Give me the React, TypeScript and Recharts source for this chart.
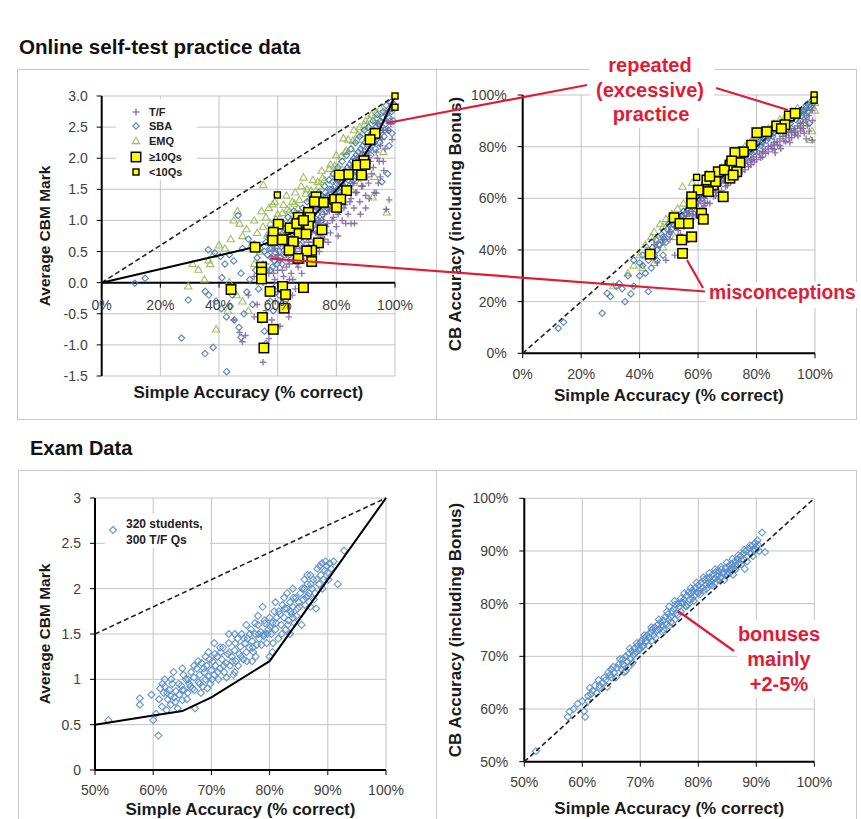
import React from 'react';
import { ScatterChart, Scatter, XAxis, YAxis, CartesianGrid, ReferenceLine, Legend } from 'recharts';

type Pt = [number, number];

// ---------- online self-test practice: average CBM mark vs simple accuracy ----------
const practiceTF: Pt[] = [
  [50, -0.2], [52, 0.1], [53, -0.35], [54, 0.25], [55, -1.28], [55, 0.0], [56, 0.3], [56, -0.45], [57, 0.15], [58, -0.6],
  [58, 0.42], [59, 0.05], [59, 0.55], [60, 0.2], [60, -0.15], [61, 0.35], [61, 0.62], [62, 0.1], [62, -0.4], [63, 0.45],
  [63, 0.25], [63, 0.8], [64, 0.05], [64, 0.55], [65, 0.35], [65, 0.7], [65, -0.2], [66, 0.5], [66, 0.9], [67, 0.25],
  [67, 0.65], [68, 0.45], [68, 0.85], [68, 1.05], [69, 0.6], [69, 0.35], [70, 0.75], [70, 0.55], [70, 1.1], [71, 0.9],
  [71, 0.45], [72, 0.65], [72, 1.0], [73, 0.8], [73, 1.2], [74, 0.6], [74, 1.0], [75, 0.85], [75, 1.3], [76, 1.1],
  [76, 0.7], [77, 0.95], [77, 1.4], [78, 1.2], [78, 0.8], [79, 1.05], [79, 1.5], [80, 1.3], [80, 0.9], [81, 1.15],
  [81, 1.6], [82, 1.4], [82, 1.0], [83, 1.25], [83, 1.75], [84, 1.5], [84, 1.1], [85, 1.35], [85, 1.85], [86, 1.6],
  [86, 1.2], [87, 1.45], [87, 2.0], [88, 1.75], [88, 1.3], [89, 1.55], [89, 2.1], [90, 1.85], [90, 1.4], [91, 2.05],
  [91, 1.6], [92, 2.25], [92, 1.75], [93, 1.45], [93, 2.4], [94, 2.0], [94, 2.55], [95, 2.2], [95, 1.7], [96, 2.45],
  [96, 1.95], [97, 2.6], [97, 1.18], [98, 1.33], [98, 2.75], [99, 2.85], [99, 2.3], [47, -0.8], [49, -0.85], [45, -0.6],
  [52, -0.55], [48, -0.95], [57, -0.9], [62, -0.3], [66, -0.1], [60, 0.45], [64, 0.3], [93.6, 1.44], [90, 1.2], [85, 0.95],
  [58.6, 0.15], [59.6, 0.4], [61.6, 0.2], [62.6, 0.55], [63.6, 0.35], [64.6, 0.15], [65.6, 0.5], [66.6, 0.3], [67.6, 0.55],
  [68.6, 0.75], [69.6, 0.5], [70.6, 0.65], [71.6, 0.8], [72.6, 0.55], [73.6, 0.95], [74.6, 0.75], [75.6, 1.0], [76.6, 0.9],
  [77.6, 1.15], [78.6, 1.0], [79.6, 1.25], [80.6, 1.1], [81.6, 1.35], [82.6, 1.2], [83.6, 1.5], [84.6, 1.3], [85.6, 1.6],
  [86.6, 1.45], [87.6, 1.7], [88.6, 1.55], [89.6, 1.85], [90.6, 1.7], [91.6, 1.95], [92.6, 1.85], [93.6, 2.1], [94.6, 1.95],
  [95.6, 2.3], [96.6, 2.15], [97.6, 2.45], [98.6, 2.55], [91.2, 1.35], [94.3, 1.6], [96.2, 1.8], [88.2, 1.1], [86.2, 0.95],
  [83.2, 0.95], [80.6, 0.75], [77.2, 0.65], [74.2, 0.5], [71.2, 0.3], [68.2, 0.15], [65.2, 0.05], [62.2, -0.1], [59.2, -0.3],
  [63.8, -0.55], [60.8, -0.7],
];
const practiceSBA: Pt[] = [
  [11.3, -0.01], [14.8, 0.07], [27.2, -0.89], [29.5, -0.28], [35.2, -1.14], [35.3, -0.14], [36.5, -0.2], [38, -1.04],
  [42.6, -1.43], [36.3, 0.53], [38.5, 0.48], [40.5, 0.42], [42, 0.3], [43.5, 0.45], [45, 0.35], [46.5, 1.08], [47.5, 0.15],
  [39, -0.3], [40.8, -0.42], [42.5, -0.55], [43.8, -0.38], [45.2, -0.6], [46.8, -0.72], [47.5, -0.88], [48.5, -0.5],
  [44.5, -0.2], [49.5, -0.15], [50.5, 0.05], [51.5, -0.35], [52.5, 0.2], [53.5, -0.1], [54.5, -0.6], [55.5, -0.78],
  [56, -0.98], [57.5, -0.3], [58.5, -0.45], [59.5, -0.05], [60.5, -0.2], [41, 0.08], [48, 0.55], [50, 0.7], [52, 0.62],
  [53, 0.4], [54, 0.55], [55, 0.3], [56, 0.65], [56.5, 0.45], [57, 0.75], [57.5, 0.2], [58, 0.55], [58.5, 0.8], [59, 0.35],
  [59.5, 0.65], [60, 0.9], [60.5, 0.5], [61, 0.75], [61.5, 0.3], [62, 0.95], [62.5, 0.6], [63, 0.8], [63.5, 1.05], [64, 0.45],
  [64.5, 0.7], [65, 0.95], [65.5, 1.15], [66, 0.6], [66.5, 0.85], [67, 1.1], [67.5, 0.7], [68, 0.95], [68.5, 1.2], [69, 0.8],
  [69.5, 1.05], [70, 1.3], [70.5, 0.9], [71, 1.15], [71.5, 1.4], [72, 1.0], [72.5, 1.25], [73, 0.85], [73.5, 1.1], [74, 1.45],
  [74.5, 1.2], [75, 1.0], [75.5, 1.35], [76, 1.55], [76.5, 1.15], [77, 1.4], [77.5, 1.65], [78, 1.25], [78.5, 1.5], [79, 1.75],
  [79.5, 1.35], [80, 1.6], [80.5, 1.85], [81, 1.45], [81.5, 1.7], [82, 1.95], [82.5, 1.55], [83, 1.8], [83.5, 2.05], [84, 1.65],
  [84.5, 1.9], [85, 2.15], [85.5, 1.75], [86, 2.0], [86.5, 2.25], [87, 1.85], [87.5, 2.1], [88, 2.35], [88.5, 1.95], [89, 2.2],
  [89.5, 2.45], [90, 2.05], [90.5, 2.3], [91, 2.5], [91.5, 2.15], [92, 2.4], [92.5, 2.6], [93, 2.25], [93.5, 2.5], [94, 2.7],
  [94.5, 2.35], [95, 2.6], [96, 2.75], [96.5, 2.45], [97, 2.85], [98, 2.65], [98.5, 2.9], [99, 2.8], [97.5, 1.75], [95.5, 1.62],
  [98, 2.2], [99, 2.4],
  [55.5, 0.5], [56.2, 0.2], [57.3, 0.55], [57.8, 0.4], [58.2, 0.25], [58.8, 0.62], [59.3, 0.48], [59.8, 0.3], [60.3, 0.7],
  [60.8, 0.4], [61.3, 0.58], [61.8, 0.8], [62.3, 0.45], [62.8, 0.68], [63.3, 0.55], [63.8, 0.85], [64.3, 0.62], [64.8, 0.8],
  [65.3, 0.55], [65.8, 0.92], [66.3, 0.72], [66.8, 0.98], [67.3, 0.8], [67.8, 0.6], [68.3, 1.05], [68.8, 0.85], [69.3, 0.7],
  [69.8, 1.0], [70.3, 1.1], [70.8, 0.82], [71.3, 1.0], [71.8, 1.2], [72.3, 0.95], [72.8, 1.15], [73.3, 1.3], [73.8, 1.0],
  [74.3, 1.25], [74.8, 1.4], [75.3, 1.1], [75.8, 1.25], [76.3, 1.45], [76.8, 1.2], [77.3, 1.35], [77.8, 1.5], [78.3, 1.3],
  [78.8, 1.62], [79.3, 1.45], [79.8, 1.25], [80.3, 1.5], [80.8, 1.65], [81.3, 1.4], [81.8, 1.6], [82.3, 1.75], [82.8, 1.45],
  [83.3, 1.68], [83.8, 1.85], [84.3, 1.55], [84.8, 1.78], [85.3, 1.95], [85.8, 1.65], [86.3, 1.85], [86.8, 2.05], [87.3, 1.75],
  [87.8, 1.95], [88.3, 2.15], [88.8, 1.85], [89.3, 2.05], [89.8, 2.25], [90.3, 1.95], [90.8, 2.15], [91.3, 2.35], [91.8, 2.05],
  [92.3, 2.25], [92.8, 2.45], [93.3, 2.15], [93.8, 2.35], [94.3, 2.55], [94.8, 2.25], [95.3, 2.45], [95.8, 2.65], [96.3, 2.35],
  [96.8, 2.55], [97.3, 2.72], [97.8, 2.45], [98.3, 2.6], [98.8, 2.75], [99.3, 2.88], [99.5, 2.6],
];
const practiceEMQ: Pt[] = [
  [29.5, -0.06], [33, 0.21], [36.4, 0.36], [37, 0.3], [38, 0.45], [39, -0.75], [40, 0.6], [42, 0.55], [43.5, 0.01], [43, -0.45],
  [44, 0.7], [45, 1.0], [46.3, 1.15], [47, 0.95], [48, 0.75], [48, -0.3], [49.4, 0.86], [50, -0.45], [51, 0.6], [52, 1.0],
  [52, 0.3], [53, 0.8], [54.5, 1.15], [55.1, 1.57], [55, 0.9], [56, 1.05], [57, 1.2], [58.3, 1.26], [58, 0.85], [59, 1.3],
  [60, 1.1], [61, 0.95], [62, 1.25], [63, 1.4], [64, 1.15], [65, 1.3], [66, 1.45], [67, 1.2], [68.8, 1.69], [68, 1.55],
  [70, 1.5], [71, 1.35], [72, 1.65], [74, 1.55], [75, 1.8], [76, 1.65], [78, 1.9], [79, 1.75], [80, 2.05], [81, 1.9],
  [82.4, 2.32], [83, 2.1], [84, 2.3], [85, 2.15], [86, 2.45], [87, 2.3], [88, 2.5], [89, 2.4], [90, 2.6], [91, 2.5],
  [92, 2.7], [94, 2.65], [95, 2.8], [97, 2.75], [92.4, 1.37], [97.2, 1.13], [93, 1.7], [96, 2.1], [88, 1.6], [85, 1.5],
  [46, -0.2], [54, 0.5], [35, 0.05], [31, 0.3],
  [57.5, 0.95], [59.4, 1.02], [61.6, 1.12], [63.3, 1.18], [65.7, 1.27], [67.4, 1.33], [69.6, 1.43], [71.4, 1.48],
  [73.7, 1.62], [75.3, 1.68], [77.6, 1.83], [79.4, 1.88], [81.7, 2.03], [83.4, 2.12], [85.6, 2.28], [87.3, 2.38],
  [89.6, 2.53], [91.4, 2.62], [93.6, 2.73], [56.4, 0.76], [60.6, 0.84], [64.5, 1.02],
];
const practiceBig: Pt[] = [
  [93.2, 2.4], [91.5, 2.3], [89.4, 1.96], [87.2, 1.89], [88.6, 1.73], [84.1, 1.74], [81.0, 1.73], [83.5, 1.48], [79.4, 1.34],
  [81.5, 1.34], [80.1, 1.21], [73.1, 1.38], [75.6, 1.29], [70.5, 1.13], [71.0, 1.05], [67.0, 1.05], [68.4, 0.97], [70.5, 0.91],
  [64.2, 0.88], [67.3, 0.79], [69.7, 0.78], [75.1, 0.85], [60.2, 0.94], [58.5, 0.81], [58.3, 0.68], [61.6, 0.69], [65.3, 0.66],
  [73.9, 0.64], [63.9, 0.52], [71.6, 0.52], [69.9, 0.51], [67.0, 0.39], [71.6, 0.34], [52.3, 0.57], [54.5, 0.25], [54.5, 0.17],
  [54.5, 0.06], [44.1, -0.11], [57.4, -0.14], [61.7, -0.06], [68.8, -0.08], [62.7, -0.19], [62.2, -0.41], [54.8, -0.56],
  [58.5, -0.75], [55.3, -1.05], [89.8, 1.9], [72.5, 1.3], [66.5, 0.95], [68.8, 1.0],
];
const practiceSmall: Pt[] = [[100, 3.0], [100, 2.82], [59.9, 1.41]];
const practiceCurve: Pt[] = [[0, 0], [53, 0.58], [60, 0.7], [66, 0.82], [72, 1.05], [88, 1.93], [94, 2.38], [100, 3]];
const practiceDiag: Pt[] = [[0, 0], [100, 3]];

// ---------- online self-test practice: CB accuracy vs simple accuracy ----------
const cbTF: Pt[] = [
  [45, 42], [48, 44], [50, 47], [52, 49], [54, 50], [55, 52], [56, 53], [57, 54], [58, 55], [59, 57], [60, 58], [61, 59],
  [62, 60], [63, 61], [64, 62], [65, 63], [66, 63.5], [67, 65], [68, 66], [69, 67], [70, 67.5], [71, 69], [72, 70], [73, 70.5],
  [74, 72], [75, 72.5], [76, 73.5], [77, 74], [78, 75], [79, 76], [80, 77], [81, 77.5], [82, 78], [83, 79], [84, 80], [85, 80.5],
  [86, 81], [87, 82], [88, 83], [89, 84], [90, 84.5], [91, 85.5], [92, 86], [93, 87], [94, 88], [95, 89], [96, 89.5], [97, 90.5],
  [98, 92], [99, 94], [90, 82], [92, 83.5], [95, 86], [97, 83], [98, 86], [88, 80.5], [86, 79], [93, 84.5], [96, 87], [99, 82.5],
  [54, 46], [58, 52], [62, 57], [66, 61], [70, 65], [74, 69], [78, 73], [82, 76], [52, 38], [49, 36], [56, 43], [60, 54],
  [64, 58], [68, 63], [72, 67.5], [76, 71], [80, 75], [84, 78], [46, 35], [45, 37],
  [50.4, 44.2], [53.2, 47.6], [56.3, 50.4], [59.1, 53.7], [61.4, 56.2], [63.2, 58.4], [65.3, 60.7], [67.1, 62.4], [69.4, 64.6],
  [71.2, 66.3], [73.4, 68.7], [75.1, 70.4], [77.3, 72.2], [79.2, 74.1], [81.4, 75.7], [83.1, 77.4], [85.3, 79.2], [87.2, 80.6],
  [89.4, 82.2], [91.1, 83.4], [93.3, 85.6], [95.2, 87.3], [97.4, 88.2], [99.2, 90.1], [94.2, 84.1], [96.3, 85.2], [91.4, 81.6],
  [88.3, 79.2], [86.4, 77.6], [55.2, 49.1], [58.3, 53.2], [62.4, 58.1], [66.2, 62.2], [70.3, 66.1], [74.2, 70.2], [78.4, 74.6],
  [82.2, 78.1], [86.1, 81.7], [90.2, 85.6],
];
const cbSBA: Pt[] = [
  [12.2, 9.7], [14, 12], [27.2, 15.5], [28.9, 23.2], [30, 22], [33, 27], [35, 20], [37, 23], [38, 26], [40, 30], [41, 34],
  [42, 31], [43, 36], [43, 23.9], [44, 33], [45, 38], [46, 40], [46, 36], [47, 42], [48, 38], [48, 45], [49, 43], [50, 46],
  [50, 50], [51, 48], [52, 51], [53, 49], [53, 53], [54, 52], [55, 55], [56, 54], [57, 57], [58, 58], [59, 57], [60, 60],
  [61, 62], [62, 61], [63, 64], [64, 63], [65, 66], [66, 66], [67, 68], [68, 67], [69, 70], [70, 70], [71, 72], [72, 72],
  [73, 74], [74, 74], [75, 76], [76, 76], [77, 78], [78, 78], [79, 80], [80, 80], [81, 82], [82, 81.5], [83, 84], [84, 83.5],
  [85, 86], [86, 85.5], [87, 87], [88, 87.5], [89, 89], [90, 89], [91, 90], [92, 90.5], [93, 92], [94, 92], [95, 93.5], [96, 94],
  [97, 95], [98, 96], [99, 98], [92, 87], [95, 90], [97, 92], [98, 89], [38, 36], [41, 38], [36, 30], [40, 35], [34, 25], [32, 26],
  [44.5, 41], [45.5, 44], [46.5, 42], [47.5, 46], [48.5, 44], [49.5, 48], [50.5, 47], [51.5, 50], [52.5, 49], [53.5, 52],
  [54.5, 51], [55.5, 54], [56.5, 56], [57.5, 55], [58.5, 59], [59.5, 58.5], [60.5, 61], [61.5, 60], [62.5, 63], [63.5, 62],
  [64.5, 65], [65.5, 64], [66.5, 67], [67.5, 66.5], [68.5, 69], [69.5, 68], [70.5, 71], [71.5, 70.5], [72.5, 73], [73.5, 72.5],
  [74.5, 75], [75.5, 74.5], [76.5, 77], [77.5, 76.5], [78.5, 79], [79.5, 78.5], [80.5, 81], [81.5, 80.5], [82.5, 83], [83.5, 82.5],
  [84.5, 84.5], [85.5, 84], [86.5, 86.5], [87.5, 86], [88.5, 88], [89.5, 87.5], [90.5, 89.5], [91.5, 89], [92.5, 91], [93.5, 90.5],
  [94.5, 92.5], [95.5, 92], [96.5, 94], [97.5, 93.5], [98.5, 95.5], [99.5, 97], [62, 62.5], [67, 67.8], [72, 71.5], [77, 77.5],
  [82, 82], [87, 86.8], [92, 91.2], [97, 96],
];
const cbEMQ: Pt[] = [
  [31, 26], [36, 31], [40, 38], [42, 42], [43, 40], [44, 45], [45, 47], [46, 44], [47, 50], [48, 49], [49, 52], [50, 51], [51, 54],
  [53, 56], [54.7, 64.5], [55, 58], [57, 61], [58, 66], [59, 62], [60, 64], [62, 66], [63, 69.4], [64, 68], [66, 70], [68, 72],
  [70, 74], [72, 76], [74, 78], [76, 80], [78, 82], [80, 84], [82, 85.5], [84, 87], [86, 89], [88, 90.5], [90, 92], [92, 93.5],
  [94, 95], [96, 93], [97, 89], [98, 95], [99, 96], [100, 94], [100, 97], [93, 86], [95, 88], [89, 85], [91, 87], [85, 84],
  [75, 75], [65, 64], [55, 53], [48, 41], [45, 35], [52, 45], [38, 34], [41, 33], [98.5, 82.6], [99, 86],
];
const cbBig: Pt[] = [
  [91.2, 91.9], [93.2, 92.9], [86.9, 88], [89.7, 88.5], [83.5, 85.8], [80.1, 85.4], [78.3, 80.6], [75.5, 78], [72.6, 77.7],
  [74.3, 73.8], [70.9, 72.9], [73.2, 70.3], [70.9, 67.8], [66.9, 70.3], [65.2, 65.2], [68.6, 60.6], [63, 67.1], [63.5, 62.6],
  [60.1, 63.2], [57.8, 60.6], [57.8, 58.1], [61.2, 54.2], [61.8, 51.9], [51.8, 52.5], [53.8, 50.3], [56.7, 50.3], [54.4, 43.9],
  [57.8, 45.1], [54.7, 38.7], [43.6, 38.4], [88.5, 87], [69, 71], [71.5, 74.5], [66, 66.5], [64, 68.5], [72, 69],
];
const cbSmall: Pt[] = [[99.7, 100], [99.7, 98], [59.5, 68.1]];
const cbDiag: Pt[] = [[0, 0], [100, 100]];

// ---------- exam data ----------
const examMark: Pt[] = [
  [52.3, 0.55], [57.7, 0.79], [57.7, 0.72], [59.7, 0.83], [60, 0.55], [60.9, 0.38], [60.5, 0.62], [61.2, 0.9], [61.5, 0.7],
  [61.8, 0.85], [62.0, 0.92], [62.3, 0.66], [62.5, 0.78], [62.8, 0.88], [63.0, 0.72], [63.3, 0.95], [63.6, 0.8], [63.9, 0.87],
  [64.2, 0.68], [64.5, 0.83], [64.8, 0.93], [65.0, 0.77], [65.3, 0.88], [65.6, 1.0], [65.9, 0.85], [66.2, 0.95], [66.5, 1.08],
  [66.8, 0.9], [67.0, 1.02], [67.2, 0.68], [67.5, 1.12], [67.8, 0.97], [68.0, 1.05], [68.3, 1.18], [68.5, 0.92], [68.8, 1.08],
  [69.0, 1.0], [69.2, 1.15], [69.5, 1.03], [69.8, 0.95], [70.0, 1.1], [70.2, 1.2], [70.5, 1.05], [70.7, 1.15], [71.0, 1.25],
  [71.2, 1.0], [71.5, 1.12], [71.8, 1.22], [72.0, 1.35], [72.2, 1.08], [72.5, 1.18], [72.8, 1.28], [73.0, 1.4], [73.2, 1.15],
  [73.5, 1.25], [73.8, 1.05], [74.0, 1.32], [74.2, 1.2], [74.5, 1.45], [74.8, 1.28], [75.0, 1.36], [75.2, 1.5], [75.5, 1.22],
  [75.8, 1.4], [76.0, 1.3], [76.2, 1.45], [76.5, 1.35], [76.8, 1.55], [77.0, 1.42], [77.2, 1.3], [77.5, 1.5], [77.8, 1.38],
  [78.0, 1.6], [78.2, 1.45], [78.5, 1.52], [78.8, 1.8], [79.0, 1.48], [79.2, 1.62], [79.5, 1.4], [79.8, 1.55], [80.0, 1.68],
  [80.0, 1.25], [80.3, 1.5], [80.5, 1.62], [80.8, 1.75], [81.0, 1.55], [81.2, 1.68], [81.5, 1.45], [81.8, 1.72], [82.0, 1.6],
  [82.2, 1.82], [82.5, 1.68], [82.8, 1.55], [83.0, 1.78], [83.2, 1.65], [83.5, 1.85], [83.8, 1.72], [84.0, 1.8], [84.3, 1.62],
  [84.5, 1.9], [84.8, 1.78], [85.0, 1.85], [85.3, 1.95], [85.5, 1.6], [85.8, 1.88], [86.0, 2.0], [86.3, 1.9], [86.5, 2.05],
  [86.8, 1.95], [87.0, 2.15], [87.3, 2.0], [87.5, 2.1], [87.8, 1.95], [88.0, 1.78], [88.2, 2.22], [88.5, 2.05], [88.8, 2.15],
  [89.0, 2.28], [89.3, 2.1], [89.5, 2.2], [89.8, 2.25], [90.0, 2.18], [90.3, 2.28], [91.7, 2.05], [92.8, 2.42], [86.5, 2.15],
  [83, 1.95], [81, 1.85], [70.5, 1.4], [69, 1.25], [66, 1.0], [74, 1.5], [77.5, 1.62], [79, 1.5], [84, 1.68], [65, 0.88],
  [63, 0.82], [68, 0.95],
  [61.0, 0.78], [61.6, 0.95], [62.4, 0.85], [63.1, 1.0], [63.8, 0.75], [64.4, 0.95], [65.2, 1.05], [65.8, 0.78], [66.4, 0.92],
  [67.1, 0.88], [67.7, 1.2], [68.2, 0.85], [68.7, 1.12], [69.3, 0.9], [69.7, 1.22], [70.1, 1.0], [70.6, 1.28], [71.1, 1.08],
  [71.6, 1.3], [72.1, 1.15], [72.6, 1.02], [73.1, 1.3], [73.6, 1.2], [74.1, 1.4], [74.6, 1.15], [75.1, 1.25], [75.6, 1.45],
  [76.1, 1.2], [76.6, 1.5], [77.1, 1.35], [77.6, 1.25], [78.1, 1.5], [78.6, 1.38], [79.1, 1.65], [79.6, 1.5], [80.1, 1.58],
  [80.6, 1.4], [81.1, 1.62], [81.6, 1.75], [82.1, 1.5], [82.6, 1.78], [83.1, 1.6], [83.6, 1.75], [84.1, 1.9], [84.6, 1.7],
  [85.1, 1.8], [85.6, 2.0], [86.1, 1.82], [86.6, 1.92], [87.1, 2.05], [87.6, 1.88], [88.1, 2.1], [88.6, 2.25], [89.1, 2.0],
  [89.6, 2.3], [90.1, 2.1], [90.6, 2.22], [91.0, 2.3], [86, 2.1], [84, 2.0], [82.5, 1.9], [78, 1.7], [76, 1.6], [73, 1.5],
  [71.5, 1.35], [69.5, 1.3], [67, 1.15], [65, 1.12], [63.5, 1.08], [62, 1.0], [74, 1.08], [77, 1.2], [80.5, 1.3], [83.5, 1.5],
  [87, 1.8],
];
const examCurve: Pt[] = [[50, 0.5], [60, 0.6], [65, 0.65], [70, 0.8], [80, 1.2], [100, 3]];
const examDiag: Pt[] = [[50, 1.5], [100, 3]];
const examCB: Pt[] = [
  [52, 52], [57.5, 58.5], [57.8, 59.5], [60, 61.5], [60.5, 58.5], [60.3, 59.6], [61, 62.5], [61.3, 64], [61.8, 63.5],
  [62.2, 64.5], [62.5, 63], [63, 64.5], [63.5, 65], [64, 65.5], [64.3, 64.2], [64.8, 66.5], [65, 67.5], [65.5, 66.8], [66, 67.8],
  [66.3, 68.5], [66.8, 67.5], [67, 69.5], [67.2, 67], [67.5, 70], [67.8, 69], [68, 70.5], [68.3, 69.5], [68.5, 71], [68.8, 70.2],
  [69, 71.5], [69.3, 70.8], [69.5, 72], [69.8, 71.2], [70, 72.5], [70.2, 73], [70.5, 72], [70.8, 73.5], [71, 72.8], [71.2, 74],
  [71.5, 73.5], [71.8, 74.5], [72, 75], [72.3, 74], [72.5, 75.5], [72.8, 74.8], [73, 76], [73.3, 75.2], [73.5, 76.5], [73.8, 75.8],
  [74, 76.8], [74.3, 77.5], [74.5, 76], [74.8, 78], [75, 79.5], [75.2, 77.5], [75.5, 78.5], [75.8, 79], [76, 79.8], [76.2, 78.2],
  [76.5, 80], [76.8, 79.5], [77, 81], [77.3, 80.2], [77.5, 80.8], [77.8, 79.5], [78, 81.5], [78.3, 82.2], [78.5, 80.8], [78.8, 82],
  [79, 82.5], [79.3, 81.5], [79.5, 83], [79.8, 82.2], [80, 83.5], [80.2, 82.5], [80.5, 84], [80.8, 83], [81, 84.5], [81.3, 83.5],
  [81.5, 84.8], [81.8, 84], [82, 85], [82.3, 84.2], [82.5, 85.5], [82.8, 84.8], [83, 86], [83.3, 85.2], [83.5, 86.2], [83.8, 85],
  [84, 86.5], [84.3, 85.8], [84.5, 84.5], [84.8, 86.8], [85, 86], [85.3, 87.2], [85.5, 86.5], [85.8, 87.5], [86, 87], [86.3, 88],
  [86.5, 87.2], [86.8, 88.5], [87, 87.8], [87.3, 89], [87.5, 88.2], [87.8, 89.5], [88, 86.6], [88.2, 90], [88.5, 89], [88.8, 90.5],
  [89, 89.5], [89.3, 91], [89.5, 90.2], [89.8, 91.5], [90, 90.8], [90.3, 91.2], [90.5, 90], [91.5, 89.8], [91, 93.5], [68, 68],
  [72, 73], [76, 77], [80, 82], [84, 85], [86, 85.5], [74, 75], [70, 71.5], [78, 79.5], [82, 83.5], [67.5, 67.2], [75, 75.8],
  [58.5, 60], [59.2, 61], [61.5, 62.8], [62.8, 65.5], [63.8, 66], [64.5, 67], [65.3, 68], [65.8, 66], [66.5, 69.5], [67.3, 68.2],
  [68.2, 71.5], [68.7, 68.8], [69.4, 72.5], [70.3, 71.8], [70.7, 74], [71.4, 72], [71.9, 75.5], [72.6, 73.5], [73.2, 77],
  [73.9, 74.5], [74.6, 78.5], [75.3, 76.5], [75.9, 80.5], [76.4, 77.8], [77.1, 80.2], [77.6, 82], [78.2, 79.8], [78.7, 83],
  [79.2, 80.5], [79.7, 84], [80.3, 81.8], [80.9, 85], [81.4, 82.8], [81.9, 85.8], [82.4, 83.5], [82.9, 86.5], [83.4, 84.5],
  [83.9, 87], [84.4, 86], [84.9, 87.8], [85.4, 85.8], [85.9, 88.5], [86.4, 86.5], [86.9, 89.2], [87.4, 87.5], [87.9, 90.2],
  [88.4, 88], [88.9, 91], [89.4, 89], [89.9, 90.2], [90.2, 92], [79, 81], [81, 82.5], [83, 84], [85, 85.5], [77, 78.5], [75, 77],
  [73, 75], [71, 73], [69, 70.5], [67, 68.5], [65, 66], [63, 64], [61, 61.5], [86, 86.5],
];
const examCBDiag: Pt[] = [[50, 50], [100, 100]];

// ---------- axis ticks & labels ----------
const pctTicksFull = [0, 20, 40, 60, 80, 100];
const pctTicksHalf = [50, 60, 70, 80, 90, 100];
const practiceMarkTicks = [-1.5, -1, -0.5, 0, 0.5, 1, 1.5, 2, 2.5, 3];
const examMarkTicks = [0, 0.5, 1, 1.5, 2, 2.5, 3];
const markPctTicks = [0, 1.5, 3];
const markPctLabels = ['0%', '50%', '100%'];
const practiceLegendLabels = ['T/F', 'SBA', 'EMQ', '\u226510Qs', '<10Qs'];
const examLegendLabels = ['320 students,', '300 T/F Qs'];

const FONT = "'Liberation Sans', Arial, Helvetica, sans-serif";
const GRID = '#c3c3c3';
const RED = '#e01c34';
const C = { tf: '#7d62a3', sba: '#4a7cb8', emq: '#96b954', exam: '#5b8fca' };
const tickStyle = { fontSize: 14, fill: '#404040' };
const titleStyle = { fontSize: 17, fontWeight: 700, fill: '#1a1a1a' };
const yTitleStyle = { ...titleStyle, textAnchor: 'middle' as const };
const blackAxis = { stroke: '#000', strokeWidth: 2 };
const blackTick = { stroke: '#000', strokeWidth: 1 };

const xy = (pts: Pt[]) => pts.map(([x, y]) => ({ x, y }));

const Plus = (p: any) => (
  <path d={`M${p.cx - 3.3},${p.cy}h6.6M${p.cx},${p.cy - 3.3}v6.6`} stroke={C.tf} strokeWidth={1.4} fill="none" opacity={0.85} />
);
const Diamond = (p: any) => {
  const r = p.r || 3.2;
  return (
    <path d={`M${p.cx},${p.cy - r}l${r},${r}l${-r},${r}l${-r},${-r}z`} stroke={p.color || C.sba} strokeWidth={1.15} fill="none" opacity={0.9} />
  );
};
const ExamDiamond = (p: any) => <Diamond {...p} color={C.exam} r={3.5} />;
const Tri = (p: any) => (
  <path d={`M${p.cx},${p.cy - 3.7}l3.7,6.3h-7.4z`} stroke={C.emq} strokeWidth={1.1} fill="none" opacity={0.9} />
);
const BigSq = (p: any) => (
  <rect x={p.cx - 4.7} y={p.cy - 4.7} width={9.4} height={9.4} fill="#ffff00" stroke="#000" strokeWidth={1.5} />
);
const SmallSq = (p: any) => (
  <rect x={p.cx - 3} y={p.cy - 3} width={6} height={6} fill="#ffff00" stroke="#000" strokeWidth={1.4} />
);
const NoDot = () => <g />;

// practice-left x ticks sit on the zero line, not at the plot bottom
const PL_PLOT_H = 280;
const PL_ZERO_SHIFT = (PL_PLOT_H * (0 - -1.5)) / (3 - -1.5);
const PracticeXTick = (props: any) => {
  const { x, y, payload } = props;
  const zy = y - PL_ZERO_SHIFT;
  return (
    <g>
      <line x1={x} x2={x} y1={zy} y2={zy + 5} stroke="#000" />
      <text x={x} y={zy + 27} textAnchor="middle" fontSize={14} fill="#404040">{`${payload.value}%`}</text>
    </g>
  );
};

const legendIcons = [Plus, Diamond, Tri, BigSq, SmallSq];
const PracticeLegend = () => (
  <svg width={81} height={81}>
    {practiceLegendLabels.map((lab, i) => {
      const cy = [13, 27, 42, 58, 73][i];
      const Icon = legendIcons[i];
      return (
        <g key={lab}>
          <Icon cx={20} cy={cy} />
          <text x={33} y={cy + 4} fontSize={11} fontWeight={700} fill="#222">{lab}</text>
        </g>
      );
    })}
  </svg>
);
const ExamLegend = () => (
  <svg width={105} height={34}>
    <ExamDiamond cx={8} cy={16} />
    {examLegendLabels.map((lab, i) => (
      <text key={lab} x={21} y={14 + i * 16} fontSize={12} fontWeight={700} fill="#222">{lab}</text>
    ))}
  </svg>
);

const lineSolid = { stroke: '#000', strokeWidth: 2 };
const lineDash = { stroke: '#222', strokeWidth: 1.6, strokeDasharray: '5 3' };

const box = (left: number, top: number, width: number, height: number): React.CSSProperties => ({
  position: 'absolute', left, top, width, height, border: '1.5px solid #c8c8c8', boxSizing: 'border-box',
});

export default function App() {
  return (
    <div style={{ position: 'absolute', left: 0, top: 0, width: 861, height: 819, overflow: 'hidden', background: '#fff', fontFamily: FONT }}>
      <div style={box(17, 69, 420, 351)} />
      <div style={box(436, 69, 421, 351)} />
      <div style={box(18, 470, 419, 370)} />
      <div style={box(436, 470, 421, 370)} />

      {/* practice: CBM mark */}
      <div style={{ position: 'absolute', left: 18, top: 70 }}>
        <ScatterChart width={417} height={340} margin={{ top: 26, right: 0, bottom: 0, left: 0 }}>
          <CartesianGrid stroke={GRID} />
          <XAxis type="number" dataKey="x" domain={[0, 100]} ticks={pctTicksFull} interval={0} height={34}
            axisLine={false} tickLine={false} tickSize={0} tickMargin={0} tick={<PracticeXTick />}
            label={{ value: 'Simple Accuracy (% correct)', position: 'insideBottom', offset: 12, style: titleStyle }} />
          <YAxis type="number" dataKey="y" domain={[-1.5, 3]} ticks={practiceMarkTicks} interval={0} width={83.7}
            axisLine={blackAxis} tickLine={blackTick} tickSize={5} tickMargin={9} tick={tickStyle}
            tickFormatter={(v: number) => v.toFixed(1)}
            label={{ value: 'Average CBM Mark', angle: -90, position: 'insideLeft', offset: 26, style: { ...yTitleStyle, fontSize: 15.5 } }} />
          <YAxis yAxisId="r" orientation="right" type="number" domain={[-1.5, 3]} ticks={markPctTicks} interval={0} width={40}
            axisLine={false} tickLine={false} tickSize={0} tickMargin={3} tick={tickStyle}
            tickFormatter={(v: number) => markPctLabels[markPctTicks.indexOf(v)]} />
          <ReferenceLine y={0} stroke="#000" strokeWidth={2} />
          <Scatter data={xy(practiceEMQ)} shape={Tri} isAnimationActive={false} />
          <Scatter data={xy(practiceSBA)} shape={Diamond} isAnimationActive={false} />
          <Scatter data={xy(practiceTF)} shape={Plus} isAnimationActive={false} />
          <Scatter data={xy(practiceDiag)} shape={NoDot} line={lineDash} isAnimationActive={false} />
          <Scatter data={xy(practiceCurve)} shape={NoDot} line={lineSolid} isAnimationActive={false} />
          <Scatter data={xy(practiceBig)} shape={BigSq} isAnimationActive={false} />
          <Scatter data={xy(practiceSmall)} shape={SmallSq} isAnimationActive={false} />
          <Legend layout="vertical" align="center" verticalAlign="middle" content={<PracticeLegend />}
            wrapperStyle={{ left: 98, top: 29, width: 81, height: 81, background: '#fff' }} />
        </ScatterChart>
      </div>

      {/* practice: CB accuracy */}
      <div style={{ position: 'absolute', left: 436, top: 70 }}>
        <ScatterChart width={421} height={340} margin={{ top: 25, right: 42, bottom: 0, left: 0 }}>
          <CartesianGrid stroke={GRID} />
          <XAxis type="number" dataKey="x" domain={[0, 100]} ticks={pctTicksFull} interval={0} height={56.7}
            axisLine={blackAxis} tickLine={blackTick} tickSize={5} tickMargin={11} tick={tickStyle}
            tickFormatter={(v: number) => `${v}%`}
            label={{ value: 'Simple Accuracy (% correct)', position: 'insideBottom', offset: 9, style: titleStyle }} />
          <YAxis type="number" dataKey="y" domain={[0, 100]} ticks={pctTicksFull} interval={0} width={86.7}
            axisLine={blackAxis} tickLine={blackTick} tickSize={5} tickMargin={11} tick={tickStyle}
            tickFormatter={(v: number) => `${v}%`}
            label={{ value: 'CB Accuracy (including Bonus)', angle: -90, position: 'insideLeft', offset: 19, style: yTitleStyle }} />
          <Scatter data={xy(cbEMQ)} shape={Tri} isAnimationActive={false} />
          <Scatter data={xy(cbSBA)} shape={Diamond} isAnimationActive={false} />
          <Scatter data={xy(cbTF)} shape={Plus} isAnimationActive={false} />
          <Scatter data={xy(cbDiag)} shape={NoDot} line={lineDash} isAnimationActive={false} />
          <Scatter data={xy(cbBig)} shape={BigSq} isAnimationActive={false} />
          <Scatter data={xy(cbSmall)} shape={SmallSq} isAnimationActive={false} />
        </ScatterChart>
      </div>

      {/* exam: CBM mark */}
      <div style={{ position: 'absolute', left: 18, top: 471 }}>
        <ScatterChart width={418} height={348} margin={{ top: 27, right: 0, bottom: 0, left: 0 }}>
          <CartesianGrid stroke={GRID} />
          <XAxis type="number" dataKey="x" domain={[50, 100]} ticks={pctTicksHalf} interval={0} height={49}
            axisLine={blackAxis} tickLine={blackTick} tickSize={5} tickMargin={10} tick={tickStyle}
            tickFormatter={(v: number) => `${v}%`}
            label={{ value: 'Simple Accuracy (% correct)', position: 'insideBottom', offset: 4.5, style: titleStyle }} />
          <YAxis type="number" dataKey="y" domain={[0, 3]} ticks={examMarkTicks} interval={0} width={77}
            axisLine={blackAxis} tickLine={blackTick} tickSize={5} tickMargin={9} tick={tickStyle}
            label={{ value: 'Average CBM Mark', angle: -90, position: 'insideLeft', offset: 26, style: { ...yTitleStyle, fontSize: 15.5 } }} />
          <YAxis yAxisId="r" orientation="right" type="number" domain={[0, 3]} ticks={markPctTicks} interval={0} width={50}
            axisLine={false} tickLine={false} tickSize={0} tickMargin={5} tick={tickStyle}
            tickFormatter={(v: number) => markPctLabels[markPctTicks.indexOf(v)]} />
          <Scatter data={xy(examMark)} shape={ExamDiamond} isAnimationActive={false} />
          <Scatter data={xy(examDiag)} shape={NoDot} line={lineDash} isAnimationActive={false} />
          <Scatter data={xy(examCurve)} shape={NoDot} line={lineSolid} isAnimationActive={false} />
          <Legend layout="vertical" align="center" verticalAlign="middle" content={<ExamLegend />}
            wrapperStyle={{ left: 87, top: 43, width: 105, height: 34, background: '#fff' }} />
        </ScatterChart>
      </div>

      {/* exam: CB accuracy */}
      <div style={{ position: 'absolute', left: 436, top: 471 }}>
        <ScatterChart width={421} height={348} margin={{ top: 27.3, right: 42.7, bottom: 0, left: 0 }}>
          <CartesianGrid stroke={GRID} />
          <XAxis type="number" dataKey="x" domain={[50, 100]} ticks={pctTicksHalf} interval={0} height={57.3}
            axisLine={blackAxis} tickLine={blackTick} tickSize={5} tickMargin={10} tick={tickStyle}
            tickFormatter={(v: number) => `${v}%`}
            label={{ value: 'Simple Accuracy (% correct)', position: 'insideBottom', offset: 5.5, style: titleStyle }} />
          <YAxis type="number" dataKey="y" domain={[50, 100]} ticks={pctTicksHalf} interval={0} width={88.3}
            axisLine={blackAxis} tickLine={blackTick} tickSize={5} tickMargin={11} tick={tickStyle}
            tickFormatter={(v: number) => `${v}%`}
            label={{ value: 'CB Accuracy (including Bonus)', angle: -90, position: 'insideLeft', offset: 19, style: yTitleStyle }} />
          <Scatter data={xy(examCB)} shape={ExamDiamond} isAnimationActive={false} />
          <Scatter data={xy(examCBDiag)} shape={NoDot} line={lineDash} isAnimationActive={false} />
        </ScatterChart>
      </div>

      {/* titles and callouts */}
      <svg width={861} height={819} style={{ position: 'absolute', left: 0, top: 0, pointerEvents: 'none' }}>
        <text x={19} y={54} fontSize={20.6} fontWeight={700} fill="#111">Online self-test practice data</text>
        <text x={30} y={455} fontSize={20} fontWeight={700} fill="#111">Exam Data</text>

        <rect x={590} y={55} width={124} height={73} fill="#fff" />
        <rect x={706} y={282} width={160} height={26} fill="#fff" />
        <rect x={737} y={620} width={80} height={78} fill="#fff" />

        <g stroke={RED} strokeWidth={2.2}>
          <line x1={387} y1={123} x2={587} y2={85} />
          <line x1={716} y1={88} x2={788} y2={110} />
          <line x1={270} y1={258.5} x2={705} y2={291.5} />
          <line x1={687} y1={260} x2={703} y2={288} />
          <line x1={678} y1={611} x2={734} y2={651} />
        </g>
        <g fill={RED} fontSize={20} fontWeight={700} textAnchor="middle">
          <text x={650} y={72}>repeated</text>
          <text x={650} y={97}>(excessive)</text>
          <text x={651} y={121}>practice</text>
          <text x={709} y={299} textAnchor="start" fontSize={19.3}>misconceptions</text>
          <text x={779} y={641}>bonuses</text>
          <text x={779} y={666}>mainly</text>
          <text x={779} y={691}>+2-5%</text>
        </g>
      </svg>
    </div>
  );
}
